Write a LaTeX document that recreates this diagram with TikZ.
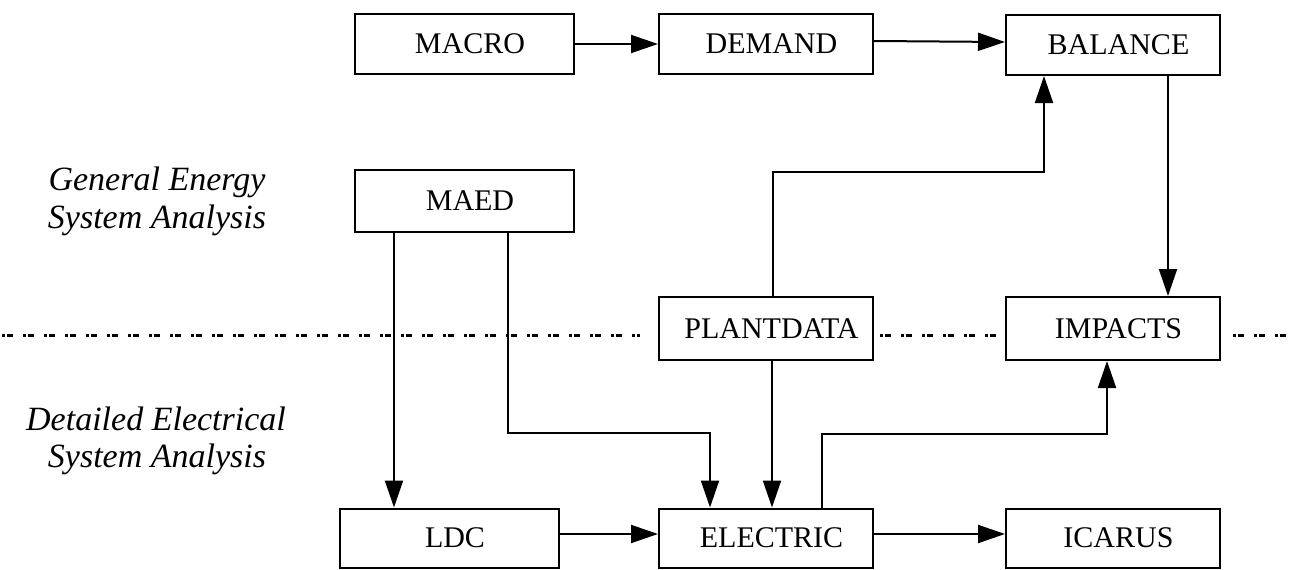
\documentclass[tikz,border=0pt]{standalone}
\usepackage{fontspec}
\setmainfont{Liberation Serif}
\usetikzlibrary{arrows.meta}
\begin{document}
\begin{tikzpicture}[x=1pt,y=-1pt,
  box/.style={draw, line width=2pt, minimum width=214pt, minimum height=61pt, inner sep=0pt, font=\fontsize{30}{36}\selectfont, execute at begin node=\hspace*{11pt}},
  conn/.style={line width=2pt},
  arr/.style={conn, -{Triangle[length=27pt,width=18pt]}},
  lbl/.style={font=\fontsize{34}{40}\selectfont\itshape, anchor=base},
  sep/.style={line width=3pt, dash pattern=on 3pt off 2pt on 6pt off 10pt}]
\useasboundingbox (0,0) rectangle (1294,570);
% boxes
\node[box, minimum width=219pt, minimum height=60pt] (macro) at (464.5,44) {MACRO};
\node[box, minimum height=60pt] (demand) at (766,44) {DEMAND};
\node[box, minimum height=60pt] (balance) at (1113,45) {BALANCE};
\node[box, minimum width=219pt, minimum height=62pt] (maed) at (464.5,201) {MAED};
\node[box, minimum height=63pt] (plant) at (766,328.5) {PLANTDATA};
\node[box, minimum height=63pt] (impacts) at (1113,328.5) {IMPACTS};
\node[box, minimum width=219pt, minimum height=59pt] (ldc) at (449.5,538) {LDC};
\node[box, minimum height=59pt] (electric) at (766,538) {ELECTRIC};
\node[box, minimum height=59pt] (icarus) at (1113,538) {ICARUS};
% labels
\node[lbl] (ge1) at (157,190) {General Energy};
\node[lbl] (ge2) at (157,228) {System Analysis};
\node[lbl] (de1) at (156,430) {Detailed Electrical};
\node[lbl] (de2) at (157,467) {System Analysis};
% separator
\coordinate (d0) at (2,335);
\coordinate (d1) at (640,335);
\coordinate (d2) at (880,335);
\coordinate (d3) at (1000,335);
\coordinate (d4) at (1233,335);
\coordinate (d5) at (1292,335);
\draw[sep] (d0) -- (d1);
\draw[sep] (d2) -- (d3);
\draw[sep] (d4) -- (d5);
% bend points
\coordinate (pb) at (1044,172);
\coordinate (me) at (710,433);
\coordinate (ei) at (1107,434);
% connectors
\draw[arr] (macro.east) -- (demand.west);
\draw[arr] ([yshift=3pt]demand.east) -- ([yshift=3pt]balance.west);
\draw[arr] (773,0 |- plant.north) |- (pb) -- (pb |- balance.south);
\draw[arr] (1168,0 |- balance.south) -- (1168,0 |- impacts.north);
\draw[arr] (394,0 |- maed.south) -- (394,0 |- ldc.north);
\draw[arr] (508,0 |- maed.south) |- (me) -- (me |- electric.north);
\draw[arr] (772,0 |- plant.south) -- (772,0 |- electric.north);
\draw[arr] (822,0 |- electric.north) |- (ei) -- (ei |- impacts.south);
\draw[arr] ([yshift=4pt]ldc.east) -- ([yshift=4pt]electric.west);
\draw[arr] ([yshift=4pt]electric.east) -- ([yshift=4pt]icarus.west);
\end{tikzpicture}
\end{document}
